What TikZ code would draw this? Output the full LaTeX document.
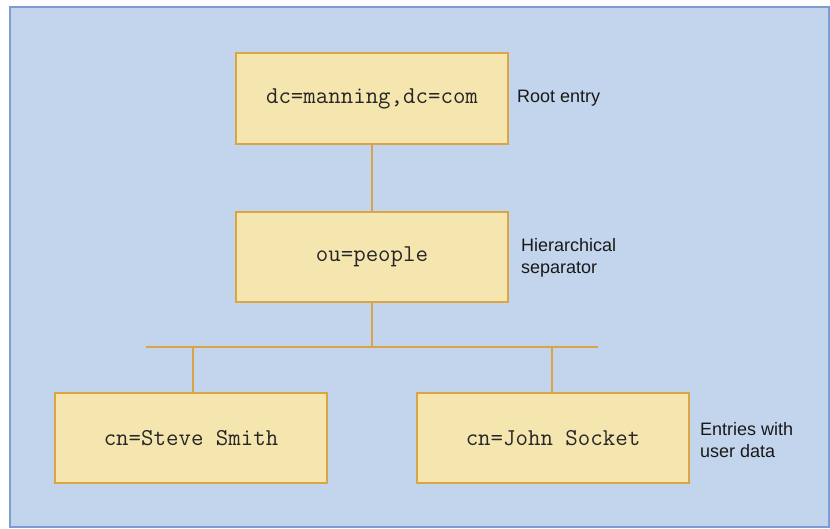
\documentclass[tikz,border=0pt]{standalone}
\usepackage{fontspec}
\setmainfont{Liberation Sans}
\definecolor{panelfill}{HTML}{C3D5EC}
\definecolor{paneledge}{HTML}{7D9CCF}
\definecolor{boxfill}{HTML}{F5E6B0}
\definecolor{boxedge}{HTML}{DBA444}
\definecolor{linkcol}{HTML}{D9A447}
\begin{document}
\begin{tikzpicture}[x=1pt,y=-1pt,
  entry/.style={draw=boxedge, fill=boxfill, line width=1.5pt, minimum width=272pt, minimum height=90pt, inner sep=0pt,
    font=\ttfamily\fontsize{24.2}{28}\selectfont, text=black!85},
  note/.style={anchor=west, align=left, inner sep=0pt, font=\fontsize{18}{22}\selectfont, text=black!90},
  link/.style={draw=linkcol, line width=1.5pt}]
\useasboundingbox (0,0) rectangle (830,529);
\fill[white] (0,0) rectangle (830,529);
\draw[fill=panelfill, draw=paneledge, line width=2pt] (10,7) rectangle (829,527);
\node[entry, minimum height=91pt] (root) at (372,98.5) {dc=manning,dc=com};
\node[entry] (ou) at (372,257) {ou=people};
\node[entry] (steve) at (191,438) {cn=Steve Smith};
\node[entry] (john) at (553,438) {cn=John Socket};
\node[note] (rootlbl) at (517,98) {Root entry};
\node[note] (oulbl) at (521,258) {Hierarchical\\separator};
\node[note] (userlbl) at (700,440) {Entries with\\user data};
\coordinate (busl) at (146,347);
\coordinate (busr) at (598,347);
\coordinate (dl) at (193,347);
\coordinate (dr) at (552,347);
\draw[link] (root.south) -- (ou.north);
\draw[link] (ou.south) -- (ou.south |- busl);
\draw[link] (busl) -- (busr);
\draw[link] (dl) -- (dl |- steve.north);
\draw[link] (dr) -- (dr |- john.north);
\end{tikzpicture}
\end{document}
